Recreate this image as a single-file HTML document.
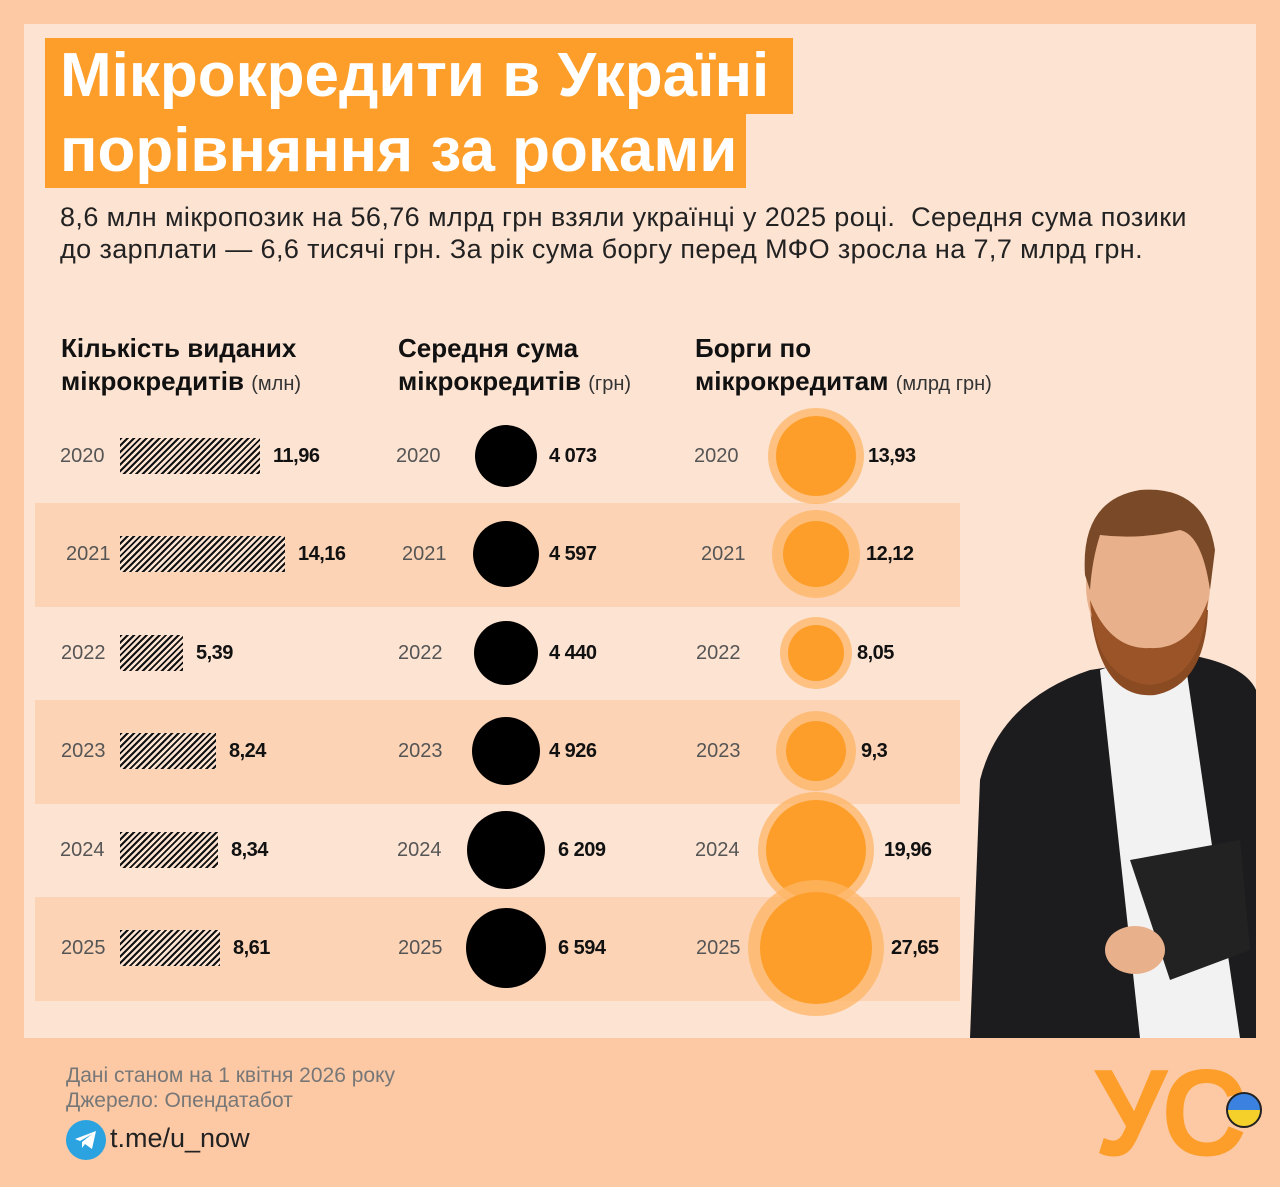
<!DOCTYPE html>
<html><head><meta charset="utf-8"><style>
*{margin:0;padding:0;box-sizing:border-box}
body{width:1280px;height:1181px;background:#fdc9a5;position:relative;overflow:hidden;font-family:"Liberation Sans","DejaVu Sans",sans-serif;color:#111}
.a{position:absolute;white-space:nowrap}
.panel{left:24px;top:24px;width:1232px;height:1014px;background:#fde3d2}
.tb{background:#fd9e2a;color:#fff;font-weight:bold;font-size:62px;line-height:75px;padding-left:15px}
.band{left:35px;width:925px;height:104px;background:#fcd3b5}
.yr{font-size:20px;color:#555}
.v{font-size:20px;font-weight:bold;color:#111;letter-spacing:-0.5px}
.bar{left:120px;height:36px;background:repeating-linear-gradient(135deg,#111 0 2px,#fde3d2 2px 4.5px)}
.h{font-size:26px;font-weight:bold;line-height:33px;color:#111}
.h span{font-weight:normal;font-size:20px;color:#333}
.c{border-radius:50%;background:#000}
.o{border-radius:50%;background:#fd9e2a}
.oh{border-radius:50%;background:#fdb566;opacity:.75}
</style></head><body>
<div class="a panel"></div>
<div class="a tb" style="left:45px;top:38px;width:748px;height:76px">Мікрокредити в Україні</div>
<div class="a tb" style="left:45px;top:113px;width:701px;height:75px">порівняння за роками</div>
<div class="a" style="left:60px;top:201px;font-size:27px;letter-spacing:0.4px;line-height:32px;color:#222">8,6 млн мікропозик на 56,76 млрд грн взяли українці у 2025 році.&nbsp; Середня сума позики<br>до зарплати — 6,6 тисячі грн. За рік сума боргу перед МФО зросла на 7,7 млрд грн.</div>
<div class="a h" style="left:61px;top:332px">Кількість виданих<br>мікрокредитів <span>(млн)</span></div>
<div class="a h" style="left:398px;top:332px">Середня сума<br>мікрокредитів <span>(грн)</span></div>
<div class="a h" style="left:695px;top:332px">Борги по<br>мікрокредитам <span>(млрд грн)</span></div>
<div class="a band" style="top:503px"></div>
<div class="a band" style="top:700px"></div>
<div class="a band" style="top:897px"></div>

<div class="a bar" style="top:438px;width:140px"></div>
<div class="a bar" style="top:536px;width:165px"></div>
<div class="a bar" style="top:635px;width:63px"></div>
<div class="a bar" style="top:733px;width:96px"></div>
<div class="a bar" style="top:832px;width:98px"></div>
<div class="a bar" style="top:930px;width:100px"></div>
<div class="a v" style="left:273px;top:445px">11,96</div>
<div class="a v" style="left:298px;top:543px">14,16</div>
<div class="a v" style="left:196px;top:642px">5,39</div>
<div class="a v" style="left:229px;top:740px">8,24</div>
<div class="a v" style="left:231px;top:839px">8,34</div>
<div class="a v" style="left:233px;top:937px">8,61</div>

<div class="a yr" style="left:60px;top:445px">2020</div><div class="a yr" style="left:396px;top:445px">2020</div><div class="a yr" style="left:694px;top:445px">2020</div>
<div class="a yr" style="left:66px;top:543px">2021</div><div class="a yr" style="left:402px;top:543px">2021</div><div class="a yr" style="left:701px;top:543px">2021</div>
<div class="a yr" style="left:61px;top:642px">2022</div><div class="a yr" style="left:398px;top:642px">2022</div><div class="a yr" style="left:696px;top:642px">2022</div>
<div class="a yr" style="left:61px;top:740px">2023</div><div class="a yr" style="left:398px;top:740px">2023</div><div class="a yr" style="left:696px;top:740px">2023</div>
<div class="a yr" style="left:60px;top:839px">2024</div><div class="a yr" style="left:397px;top:839px">2024</div><div class="a yr" style="left:695px;top:839px">2024</div>
<div class="a yr" style="left:61px;top:937px">2025</div><div class="a yr" style="left:398px;top:937px">2025</div><div class="a yr" style="left:696px;top:937px">2025</div>

<div class="a c" style="left:475px;top:425px;width:62px;height:62px"></div>
<div class="a c" style="left:473px;top:521px;width:66px;height:66px"></div>
<div class="a c" style="left:474px;top:621px;width:64px;height:64px"></div>
<div class="a c" style="left:472px;top:717px;width:68px;height:68px"></div>
<div class="a c" style="left:467px;top:811px;width:78px;height:78px"></div>
<div class="a c" style="left:466px;top:908px;width:80px;height:80px"></div>
<div class="a v" style="left:549px;top:445px">4 073</div>
<div class="a v" style="left:549px;top:543px">4 597</div>
<div class="a v" style="left:549px;top:642px">4 440</div>
<div class="a v" style="left:549px;top:740px">4 926</div>
<div class="a v" style="left:558px;top:839px">6 209</div>
<div class="a v" style="left:558px;top:937px">6 594</div>

<div class="a oh" style="left:768px;top:408px;width:96px;height:96px"></div><div class="a o" style="left:776px;top:416px;width:80px;height:80px"></div>
<div class="a oh" style="left:772px;top:510px;width:88px;height:88px"></div><div class="a o" style="left:783px;top:521px;width:66px;height:66px"></div>
<div class="a oh" style="left:780px;top:617px;width:72px;height:72px"></div><div class="a o" style="left:788px;top:625px;width:56px;height:56px"></div>
<div class="a oh" style="left:776px;top:711px;width:80px;height:80px"></div><div class="a o" style="left:786px;top:721px;width:60px;height:60px"></div>
<div class="a oh" style="left:758px;top:792px;width:116px;height:116px"></div><div class="a o" style="left:766px;top:800px;width:100px;height:100px"></div>
<div class="a oh" style="left:748px;top:880px;width:136px;height:136px"></div><div class="a o" style="left:760px;top:892px;width:112px;height:112px"></div>
<div class="a v" style="left:868px;top:445px">13,93</div>
<div class="a v" style="left:866px;top:543px">12,12</div>
<div class="a v" style="left:857px;top:642px">8,05</div>
<div class="a v" style="left:861px;top:740px">9,3</div>
<div class="a v" style="left:884px;top:839px">19,96</div>
<div class="a v" style="left:891px;top:937px">27,65</div>

<svg class="a" style="left:940px;top:480px" width="316" height="558" viewBox="0 0 316 558">
<path d="M30 558 L40 300 Q60 220 150 190 L250 175 Q305 185 316 210 L316 558 Z" fill="#1c1c1e"/>
<path d="M160 190 L200 175 L245 180 L300 558 L200 558 Z" fill="#f2f2f2"/>
<path d="M150 130 Q160 220 215 215 Q265 205 268 130 Z" fill="#8a4a22"/>
<ellipse cx="208" cy="105" rx="62" ry="78" fill="#e9b08c"/>
<path d="M150 120 Q155 200 210 205 Q262 200 268 120 Q250 170 210 168 Q170 170 150 120Z" fill="#9a5428"/>
<path d="M145 95 Q140 20 200 10 Q265 5 275 70 L270 110 Q262 55 240 50 Q200 60 160 55 Q152 80 150 110Z" fill="#7a4a28"/>
<path d="M190 380 L300 360 L310 470 L230 500 Z" fill="#222"/>
<ellipse cx="195" cy="470" rx="30" ry="24" fill="#e9b08c"/>
</svg>

<div class="a" style="left:66px;top:1063px;font-size:21px;line-height:25px;color:#777">Дані станом на 1 квітня 2026 року<br>Джерело: Опендатабот</div>
<div class="a" style="left:66px;top:1120px;width:40px;height:40px;border-radius:50%;background:#2aa3e0"></div>
<svg class="a" style="left:74px;top:1130px" width="24" height="20"><path d="M1 9 L22 1 L18 19 L11 14 L8 18 L8 12 L18 4 L6 11 Z" fill="#fff"/></svg>
<div class="a" style="left:110px;top:1123px;font-size:27px;color:#222">t.me/u_now</div>
<div class="a" style="left:1094px;top:1040px;font-size:118px;font-weight:bold;color:#fd9e2a;letter-spacing:-6px;line-height:140px;transform:scaleY(1.05);transform-origin:top left">УС</div>
<div class="a" style="left:1226px;top:1092px;width:36px;height:36px;border-radius:50%;background:linear-gradient(#3b82e0 50%,#f5cf2a 50%);border:2px solid #222"></div>
</body></html>
